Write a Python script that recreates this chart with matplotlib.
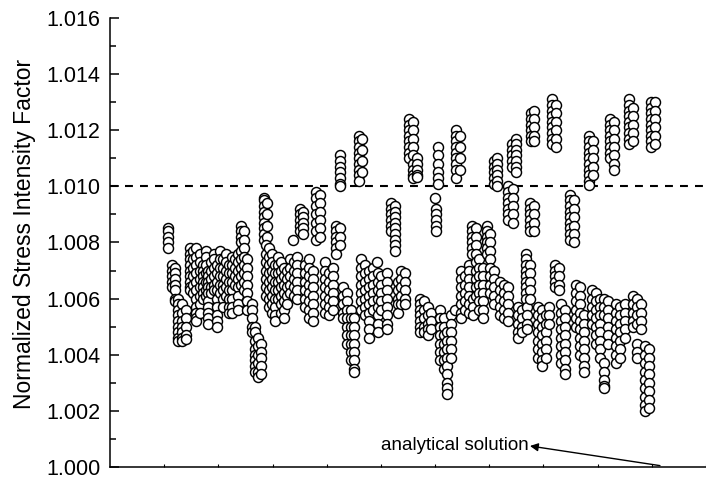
import matplotlib.pyplot as plt
import numpy as np

plt.rcParams.update({
    'font.family': ['Liberation Sans', 'DejaVu Sans'],
    'font.size': 15,
})

# case position along the (unlabelled) x axis, and the SIF values in each column
# values are given as (K - 1) * 1000
col_x = [10.7, 11.4, 12.0, 12.5, 13.3, 14.0,
         14.8, 15.3, 15.9, 16.6, 17.2, 17.7, 18.1, 18.6, 19.2, 19.7, 20.3, 20.8,
         21.4, 22.0, 22.5, 23.1, 23.6, 24.2, 24.7, 25.3,
         26.2, 26.8, 27.3, 27.9, 28.4, 29.0,
         28.8, 29.3, 29.9, 30.4, 31.0, 31.5, 32.1, 32.7, 33.2, 33.8, 33.9,
         34.5, 35.1, 35.6, 36.0, 36.7, 37.5, 38.0, 38.7, 39.7, 40.4, 41.1, 41.7,
         42.4, 42.5, 43.0, 43.7, 44.5, 45.0, 45.9, 46.5, 46.3, 47.0, 47.8, 48.5,
         49.3, 49.4, 50.0, 51.1, 51.8, 52.6, 53.1, 53.7, 54.4,
         55.2, 55.9, 56.6, 57.2, 57.9, 58.7, 59.2, 60.0, 60.1, 60.5,
         60.9, 61.6, 62.2, 62.9, 63.7, 63.8, 64.6, 64.8, 65.5, 66.2,
         66.8, 66.9, 67.5, 68.1, 68.8, 69.6, 70.1, 70.8, 70.9, 71.4,
         72.0, 72.7, 73.4, 73.5, 74.2, 74.3, 74.9, 75.3, 76.0, 76.8, 76.9,
         77.5, 77.6, 77.7, 78.2, 78.3, 79.0, 79.7, 80.4, 81.0,
         81.5, 82.3, 82.1, 82.8, 83.2, 83.9, 84.9, 85.6, 86.0, 86.7, 87.5,
         88.4, 89.1, 88.9, 89.7, 90.4, 91.1, 91.2, 91.9, 92.3, 93.0, 93.4, 94.1,
         95.0, 95.8, 96.5, 96.6, 97.2, 97.3, 98.0, 98.7, 99.4, 99.8, 100.6]

col_y = [
    [8.5, 8.4, 8.2, 8.0, 7.8],
    [7.2, 7.0, 6.8, 6.6, 6.4],
    [7.1, 6.9, 6.7, 6.5, 6.3, 6.0, 5.9],
    [6.0, 5.8, 5.6, 5.4, 5.2, 5.0, 4.8, 4.6, 4.5],
    [5.8, 5.5, 5.2, 5.0, 4.8, 4.6, 4.5],
    [5.6, 5.3, 5.0, 4.7, 4.55],
    [7.8, 7.6, 7.4, 7.2, 7.0, 6.8, 6.6, 6.4, 6.3],
    [7.7, 7.4, 7.1, 6.8, 6.5, 6.2],
    [7.8, 7.5, 7.2, 6.9, 6.6, 6.3, 6.0, 5.7, 5.5, 5.3, 5.2],
    [7.6, 7.3, 7.0, 6.7, 6.4, 6.1, 5.8, 5.5],
    [7.2, 7.0, 6.8, 6.6, 6.4, 6.2, 6.0],
    [7.7, 7.5, 7.2, 6.9, 6.6, 6.3, 6.1],
    [7.0, 6.8, 6.6, 6.4, 6.2, 5.9, 5.7, 5.5, 5.3, 5.1],
    [7.3, 7.0, 6.7, 6.4, 6.2],
    [7.6, 7.4, 7.1, 6.8, 6.5, 6.3],
    [7.2, 6.9, 6.6, 6.3, 6.0, 5.7, 5.4, 5.2, 5.0],
    [7.7, 7.4, 7.1, 6.8, 6.5, 6.2],
    [7.4, 7.1, 6.8, 6.5, 6.3, 6.0, 5.7],
    [7.6, 7.3, 7.0, 6.7, 6.4, 6.1],
    [7.2, 6.9, 6.6, 6.3, 6.0, 5.7, 5.5],
    [7.5, 7.2, 6.9, 6.6, 6.3, 6.0, 5.7, 5.5],
    [7.4, 7.1, 6.8, 6.5],
    [7.6, 7.3, 7.0, 6.7, 6.4, 6.1, 5.8, 5.6],
    [8.6, 8.4, 8.2, 8.0, 7.7, 7.4, 7.1, 6.8, 6.5],
    [8.4, 8.1, 7.8, 7.5, 7.2, 6.9, 6.6, 6.3],
    [7.4, 7.1, 6.8, 6.5, 6.2, 5.9, 5.6],
    [5.8, 5.6, 5.3, 5.0, 4.8],
    [5.0, 4.8, 4.5, 4.2, 4.0, 3.8, 3.6, 3.4],
    [4.6, 4.3, 4.0, 3.7, 3.4, 3.2],
    [4.4, 4.1, 3.9, 3.6, 3.3],
    [9.6, 9.5, 9.3, 9.1, 8.9, 8.7, 8.5, 8.3, 8.1],
    [9.4, 9.0, 8.6, 8.2],
    [7.9, 7.6, 7.3, 7.0, 6.7, 6.4, 6.1],
    [7.8, 7.5, 7.2, 6.9, 6.6, 6.3, 6.0, 5.7],
    [7.6, 7.3, 7.0, 6.7, 6.4, 6.1, 5.8, 5.5],
    [7.2, 6.9, 6.6, 6.3, 6.0, 5.7, 5.4, 5.2],
    [7.5, 7.2, 6.9, 6.6, 6.3, 6.0],
    [7.3, 7.0, 6.7, 6.4, 6.1, 5.8, 5.5],
    [7.1, 6.8, 6.5, 6.2, 5.9, 5.6, 5.3],
    [7.0, 6.7, 6.4, 6.1, 5.8],
    [7.4, 7.1, 6.8, 6.5, 6.2],
    [8.1],
    [7.3, 7.0, 6.7, 6.4, 6.1],
    [7.5, 7.2, 6.9, 6.6, 6.3, 6.0],
    [9.2, 9.0, 8.8, 8.6, 8.4],
    [9.1, 8.9, 8.7, 8.5, 8.3],
    [7.2, 6.9, 6.6, 6.3, 6.0, 5.7],
    [7.4, 7.1, 6.8, 6.5, 6.2, 5.9, 5.6, 5.3],
    [7.0, 6.7, 6.4, 6.1, 5.8, 5.5, 5.2],
    [9.8, 9.6, 9.3, 9.0, 8.7, 8.4, 8.1],
    [9.7, 9.4, 9.1, 8.8, 8.5, 8.2],
    [7.3, 7.0, 6.7, 6.4, 6.1, 5.8, 5.5],
    [6.9, 6.6, 6.3, 6.0, 5.7, 5.4],
    [7.1, 6.8, 6.5, 6.2, 5.9, 5.6],
    [8.6, 8.4, 8.2, 8.0, 7.8, 7.6],
    [11.1, 10.9, 10.7, 10.5, 10.3, 10.1, 10.0],
    [8.5, 8.2, 7.9],
    [6.4, 6.1, 5.8, 5.5, 5.3],
    [6.2, 5.9, 5.6, 5.3, 5.0, 4.7, 4.4],
    [5.6, 5.3, 5.0, 4.7, 4.4, 4.1, 3.8],
    [5.3, 5.0, 4.7, 4.4, 4.1, 3.8, 3.5, 3.4],
    [11.8, 11.6, 11.4, 11.2, 11.0, 10.8, 10.6, 10.4, 10.2],
    [11.7, 11.3, 10.9, 10.5],
    [7.4, 7.1, 6.8, 6.5, 6.2, 5.9, 5.6],
    [7.2, 6.9, 6.6, 6.3, 6.0, 5.7, 5.4],
    [7.0, 6.7, 6.4, 6.1, 5.8, 5.5, 5.2, 4.9, 4.6],
    [7.1, 6.8, 6.5, 6.2, 5.9, 5.6],
    [7.3],
    [6.9, 6.6, 6.3, 6.0, 5.7, 5.4, 5.1, 4.8],
    [6.8, 6.5, 6.2, 5.9, 5.6],
    [6.9, 6.6, 6.3, 6.0, 5.7, 5.4, 5.1, 4.9],
    [9.4, 9.2, 9.0, 8.8, 8.6, 8.4],
    [9.3, 9.1, 8.9, 8.7, 8.5, 8.3, 8.1, 7.9, 7.7],
    [6.6, 6.3, 6.0, 5.8, 5.5],
    [7.0, 6.7, 6.4, 6.1, 5.8],
    [6.9, 6.6, 6.3, 6.0, 5.8],
    [12.4, 12.2, 12.0, 11.8, 11.6, 11.4, 11.2, 11.0],
    [12.3, 12.0, 11.7, 11.4, 11.1, 10.8, 10.6, 10.4, 10.3],
    [11.0, 10.8, 10.6, 10.4, 10.35],
    [6.0, 5.8, 5.6, 5.4, 5.2, 5.0, 4.8],
    [5.9, 5.6, 5.3, 5.0, 4.8],
    [5.7, 5.4, 5.1, 4.9, 4.7],
    [5.5, 5.2, 4.9],
    [9.6],
    [9.2, 9.0, 8.8, 8.6, 8.4],
    [11.4, 11.1, 10.8, 10.5, 10.3, 10.1],
    [5.6, 5.3, 5.0, 4.7, 4.4, 4.1, 3.8],
    [5.3, 5.0, 4.7, 4.4, 4.1, 3.8, 3.5],
    [4.8, 4.5, 4.2, 3.9, 3.6, 3.3, 3.0, 2.8, 2.6],
    [5.4, 5.1, 4.8, 4.5, 4.2, 3.9],
    [5.6],
    [12.0, 11.8, 11.6, 11.4, 11.2, 11.0, 10.8, 10.6, 10.3],
    [11.8, 11.4, 11.0, 10.6],
    [7.0, 6.7, 6.4, 6.1, 5.8, 5.5, 5.3],
    [6.8, 6.5, 6.2, 5.9, 5.6],
    [7.2, 7.0, 6.7, 6.4, 6.1, 5.8, 5.5],
    [8.6, 8.4, 8.2, 8.0, 7.8, 7.6],
    [6.0, 5.7, 5.4],
    [8.5, 8.2, 7.9, 7.6, 7.3, 7.0, 6.7, 6.4, 6.1],
    [7.4, 7.1, 6.8, 6.5, 6.2, 5.9, 5.6],
    [7.1, 6.8, 6.5, 6.2, 5.9, 5.6, 5.3],
    [8.6, 8.4, 8.2, 8.0, 7.8, 7.6],
    [8.3, 8.0, 7.7, 7.4, 7.1, 6.8, 6.5, 6.2],
    [10.9, 10.7, 10.5, 10.3, 10.1],
    [7.0, 6.7, 6.4, 6.1, 5.8],
    [11.0, 10.8, 10.6, 10.4, 10.2, 10.0],
    [6.6, 6.3, 6.0, 5.7, 5.4],
    [6.5, 6.2, 5.9, 5.6, 5.3],
    [6.4, 6.1, 5.8, 5.5, 5.2],
    [10.0, 9.8, 9.6, 9.4, 9.2, 9.0, 8.8],
    [11.5, 11.3, 11.1, 10.9, 10.7],
    [9.9, 9.6, 9.3, 9.0, 8.7],
    [11.7, 11.5, 11.3, 11.1, 10.9, 10.7, 10.5],
    [5.7, 5.4, 5.1, 4.8, 4.6],
    [5.6, 5.3, 5.0, 4.8],
    [7.6, 7.4, 7.2, 7.0, 6.8, 6.6, 6.4, 6.2, 6.0],
    [5.7, 5.4, 5.1, 4.9],
    [7.2, 6.9, 6.6, 6.3, 6.0],
    [9.4, 9.2, 9.0, 8.8, 8.6, 8.4],
    [12.6, 12.4, 12.2, 12.0, 11.8, 11.6],
    [12.7, 12.4, 12.1, 11.8, 11.6],
    [9.3, 9.0, 8.7, 8.4],
    [5.7, 5.4, 5.1, 4.8, 4.5, 4.2, 3.9],
    [5.6, 5.3, 5.0, 4.7, 4.4, 4.1, 3.8, 3.6],
    [5.4, 5.1, 4.8, 4.5, 4.2, 3.9],
    [5.7, 5.4, 5.1],
    [13.1, 12.9, 12.7, 12.5, 12.3, 12.1, 11.9, 11.7, 11.5],
    [12.9, 12.6, 12.3, 12.0, 11.7, 11.4],
    [7.2, 7.0, 6.8, 6.6, 6.4],
    [7.1, 6.8, 6.5, 6.3],
    [5.8, 5.5, 5.2, 4.9, 4.6, 4.3, 4.0, 3.7],
    [5.6, 5.3, 5.0, 4.7, 4.4, 4.1, 3.8, 3.5, 3.3],
    [9.7, 9.5, 9.3, 9.1, 8.9, 8.7, 8.5, 8.3, 8.1],
    [9.5, 9.2, 8.9, 8.6, 8.3, 8.0],
    [6.5, 6.2, 5.9, 5.6, 5.3, 5.0],
    [6.4, 6.1, 5.8, 5.5, 5.2, 4.9, 4.6, 4.3, 4.0],
    [5.4, 5.1, 4.8, 4.5, 4.2, 3.9, 3.6, 3.4],
    [11.8, 11.6, 11.4, 11.2, 11.0, 10.8, 10.6, 10.4, 10.2, 10.05],
    [11.6, 11.3, 11.0, 10.7, 10.4],
    [6.3, 6.0, 5.7, 5.4, 5.1],
    [6.2, 5.9, 5.6, 5.3, 5.0, 4.7, 4.4],
    [6.0, 5.7, 5.4, 5.1, 4.8, 4.5, 4.2, 3.9],
    [3.7, 3.4, 3.1, 2.9, 2.8],
    [6.0, 5.7, 5.4],
    [5.9, 5.6, 5.3, 5.0, 4.7, 4.4],
    [12.4, 12.2, 12.0, 11.8, 11.6, 11.4, 11.2, 11.0],
    [12.3, 12.0, 11.7, 11.4, 11.1, 10.8, 10.6],
    [5.8, 5.5, 5.2, 4.9, 4.6, 4.3, 4.0, 3.7],
    [5.7, 5.4, 5.1, 4.8, 4.5, 4.2, 3.9],
    [5.8, 5.5, 5.2, 4.9, 4.6],
    [13.1, 12.9, 12.7, 12.5, 12.3, 12.1, 11.9, 11.7, 11.5],
    [12.8, 12.5, 12.2, 11.9, 11.6],
    [6.1, 5.8, 5.5, 5.2, 5.0],
    [6.0, 5.7, 5.4, 5.1],
    [4.4, 4.1, 3.9],
    [5.8, 5.5, 5.2, 4.9],
    [4.3, 4.0, 3.7, 3.4, 3.1, 2.8, 2.5, 2.2, 2.0],
    [4.2, 3.9, 3.6, 3.3, 3.0, 2.7, 2.4, 2.1],
    [13.0, 12.8, 12.6, 12.4, 12.2, 12.0, 11.8, 11.6, 11.4],
    [13.0, 12.7, 12.4, 12.1, 11.8, 11.5],
]

analytical = 1.010

xs, ys = [], []
for x, col in zip(col_x, col_y):
    for v in col:
        xs.append(x)
        ys.append(1 + v / 1000)

fig = plt.figure(figsize=(7.06, 4.79), dpi=100)
ax = fig.add_axes([0.156, 0.025, 0.844, 0.9375])

ax.scatter(xs, ys, s=52, facecolor='white', edgecolor='black', linewidths=1.05, zorder=3)
ax.axhline(analytical, color='black', lw=1.5, dashes=(3.8, 3.4), zorder=2)

ax.set_xlim(0, 110)
ax.set_ylim(1.000, 1.016)
ax.set_yticks(np.arange(1.000, 1.0161, 0.002))
ax.set_yticks(np.arange(1.001, 1.0161, 0.002), minor=True)
ax.set_yticklabels([f'{t:.3f}' for t in np.arange(1.000, 1.0161, 0.002)])
ax.set_xticks(np.arange(10, 111, 10))
ax.set_xticklabels([])

for s in ['top', 'right']:
    ax.spines[s].set_visible(False)
for s in ['left', 'bottom']:
    ax.spines[s].set_linewidth(1.1)

ax.tick_params(axis='y', which='major', direction='in', length=6.5, width=1.1, pad=7,
               labelsize=15.5)
ax.tick_params(axis='y', which='minor', direction='in', length=4.3, width=1.1)
ax.tick_params(axis='x', which='major', direction='in', length=2.5, width=0.8)

ax.set_ylabel('Normalized Stress Intensity Factor', fontsize=16.5)
ax.yaxis.set_label_coords(-0.125, 0.52)

ax.text(77.2, 1.00075, 'analytical solution', fontsize=13.5, ha='right', va='center')
ax.annotate('', xy=(77.5, 1.00075), xytext=(101.5, 1.00005),
            arrowprops=dict(arrowstyle='-|>', color='black', lw=1.0,
                            mutation_scale=12, shrinkA=0, shrinkB=0))

plt.savefig('out.png', dpi=100)
